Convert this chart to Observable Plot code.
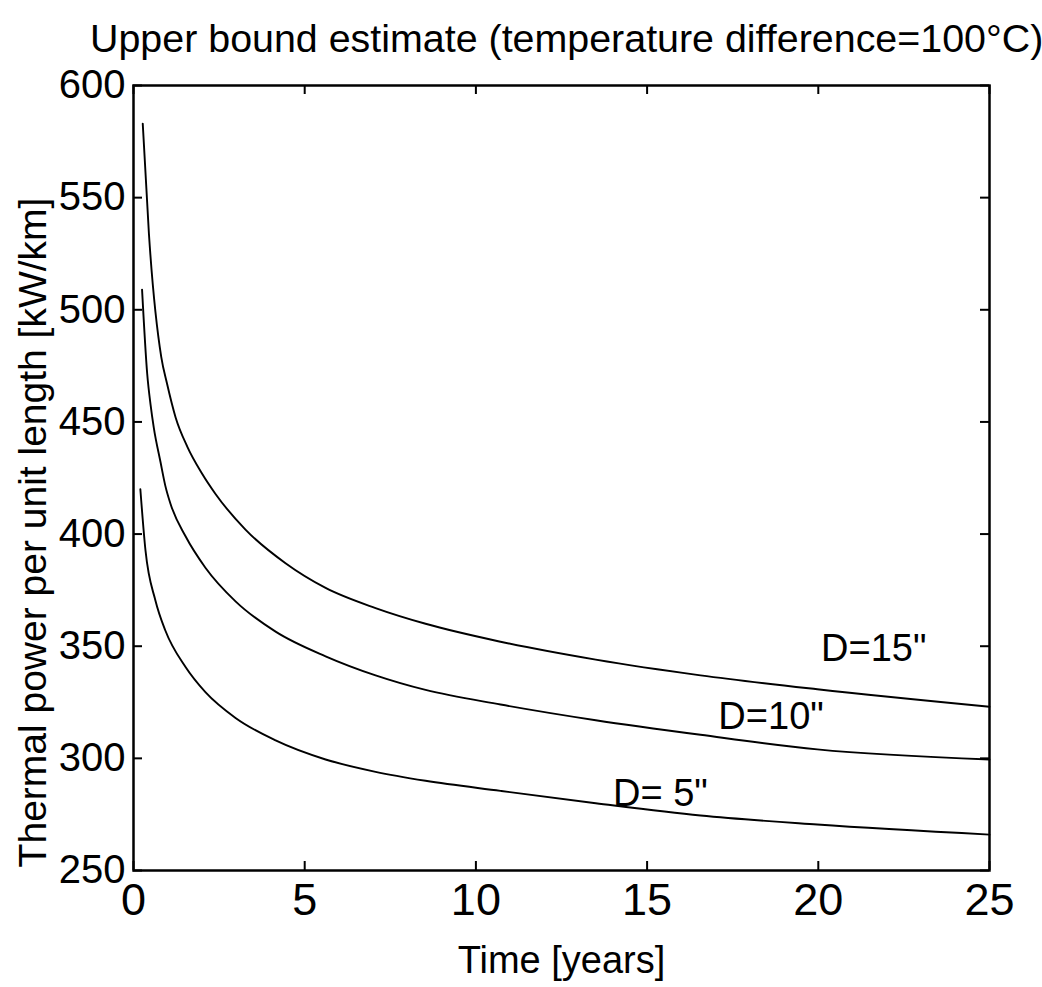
<!DOCTYPE html>
<html><head><meta charset="utf-8">
<script src="https://cdn.jsdelivr.net/npm/d3@7"></script>
<script src="https://cdn.jsdelivr.net/npm/@observablehq/plot@0.6"></script>
<style>
body{margin:0;background:#fff;font-family:"Liberation Sans",Arial,sans-serif;}
#title{position:relative;height:58px;width:1042px;}
#title span{position:absolute;left:90px;top:19px;font-size:39.4px;line-height:1;white-space:nowrap;color:#000;}
#chart svg{display:block;}
</style></head><body>
<div id="title"><span>Upper bound estimate (temperature difference=100°C)</span></div>
<div id="chart"></div>
<script>
// Time [years] and thermal power per unit length [kW/km]
const timeD15  = [0.27, 0.45, 0.81, 0.98, 1.23, 1.57, 2.0, 2.39, 3.27, 4.44, 5.61, 7.07, 8.53, 10.72, 13.5, 16.56, 19.97, 25];
const powerD15 = [583, 534, 479, 467, 452, 439, 427, 418, 402, 387, 376, 367, 360, 352, 344, 337, 330.8, 323];

const timeD10  = [0.25, 0.40, 0.50, 0.59, 0.79, 0.93, 1.08, 1.52, 2.10, 2.98, 4.15, 5.61, 7.07, 8.53, 10.72, 13.5, 16.56, 19.97, 25];
const powerD10 = [509, 471.5, 457.5, 447.7, 432, 421.5, 413.5, 399, 385, 370, 356.5, 345.5, 337, 330.5, 324, 317, 310.5, 304, 299.5];

const timeD5   = [0.2, 0.35, 0.64, 0.93, 1.52, 2.10, 2.98, 4.15, 5.61, 7.07, 8.53, 10.72, 13.5, 16.56, 19.97, 25];
const powerD5  = [420, 392.7, 370.4, 357, 340.7, 329.5, 318, 308, 299.5, 294, 290, 285.5, 280, 274.5, 270.5, 266];

const seriesNames = ['D=15"', 'D=10"', 'D= 5"'];
const labelTime  = [21.62, 18.62, 15.39];
const labelPower = [348.8, 318.7, 284];

const xTickValues = [0, 5, 10, 15, 20, 25];
const yTickValues = [250, 300, 350, 400, 450, 500, 550, 600];

const xLabel = "Time [years]";
const yLabel = "Thermal power per unit length [kW/km]";

const rows = [];
[[timeD15, powerD15], [timeD10, powerD10], [timeD5, powerD5]].forEach(([ts, ps], i) => {
  ts.forEach((t, j) => rows.push({series: seriesNames[i], t, p: ps[j]}));
});
const labels = seriesNames.map((name, i) => ({name, t: labelTime[i], p: labelPower[i]}));

const W = 1042, H = 929, mt = 27, mb = 117, ml = 133, mr = 53;
const plotH = H - mt - mb, plotW = W - ml - mr;
const tickLen = 9;

const chart = Plot.plot({
  width: W, height: H,
  marginTop: mt, marginBottom: mb, marginLeft: ml, marginRight: mr,
  style: {fontFamily: '"Liberation Sans", Arial, sans-serif', background: "white", color: "black"},
  x: {domain: [0, 25], axis: null},
  y: {domain: [250, 600], axis: null},
  marks: [
    Plot.line(rows, {x: "t", y: "p", z: "series", stroke: "black", strokeWidth: 1.9, curve: "monotone-x"}),
    Plot.tickX(xTickValues, {x: d => d, insetTop: plotH - tickLen, stroke: "black", strokeWidth: 2}),
    Plot.tickX(xTickValues, {x: d => d, insetBottom: plotH - tickLen, stroke: "black", strokeWidth: 2}),
    Plot.tickY(yTickValues, {y: d => d, insetRight: plotW - tickLen, stroke: "black", strokeWidth: 2}),
    Plot.tickY(yTickValues, {y: d => d, insetLeft: plotW - tickLen, stroke: "black", strokeWidth: 2}),
    Plot.frame({stroke: "black", strokeWidth: 2.5}),
    Plot.text(xTickValues, {x: d => d, text: d => String(d), frameAnchor: "bottom", dy: 44, fontSize: 45}),
    Plot.text(yTickValues, {y: d => d, text: d => String(d), frameAnchor: "left", textAnchor: "end", dx: -8, fontSize: 40}),
    Plot.text([xLabel], {text: d => d, frameAnchor: "bottom", textAnchor: "middle", dy: 102, fontSize: 38}),
    Plot.text([yLabel], {text: d => d, frameAnchor: "left", textAnchor: "middle", rotate: -90, dx: -100, dy: 54.5, fontSize: 39}),
    Plot.text(labels, {x: "t", y: "p", text: "name", fontSize: 38})
  ]
});
document.getElementById("chart").appendChild(chart);
</script>
</body></html>
